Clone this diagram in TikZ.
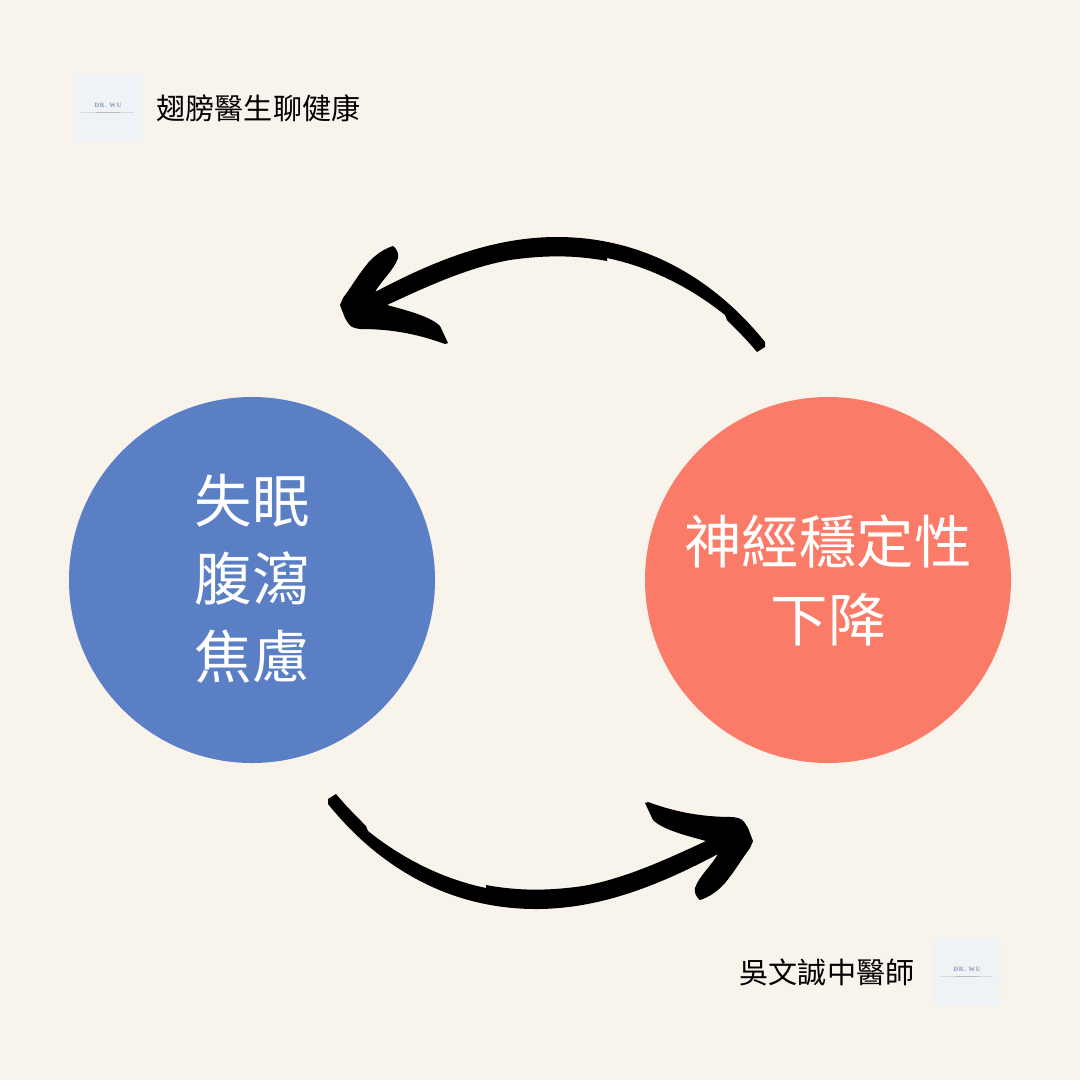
\documentclass[tikz,border=0pt]{standalone}
\usepackage{fontspec}
\newfontfamily\cjk{Noto Sans CJK TC}
\newfontfamily\logoserif[LetterSpace=12]{Liberation Serif}
\definecolor{bgc}{HTML}{F8F3EB}
\definecolor{bluec}{HTML}{5B7FC5}
\definecolor{redc}{HTML}{FA7C68}
\definecolor{logobg}{HTML}{EFF3F5}
\definecolor{logoink}{HTML}{8496B8}
\definecolor{logoline}{HTML}{D5DBE0}
\definecolor{logomid}{HTML}{B4BDC8}
\tikzset{
  bubble/.style={circle,minimum size=366pt,inner sep=0pt,draw=none},
  bigtext/.style={text=white,align=center,font=\cjk\fontsize{57.5}{78}\selectfont,inner sep=0pt},
  smalltext/.style={text=black,anchor=center,font=\cjk\fontsize{29.1}{34}\selectfont,inner sep=0pt},
  logobox/.style={fill=logobg,minimum size=68pt,inner sep=0pt,draw=none},
  logotext/.style={text=logoink,font=\logoserif\fontsize{6.5}{7}\selectfont\bfseries,inner sep=0pt},
  logorule/.style={logoline,line width=0.7pt},
  logoinkrule/.style={logomid,line width=0.9pt},
}
\newcommand{\brusharrow}{%
  \fill[black] (340,305)
    -- (343,298)
    .. controls (352,286) and (358,275) .. (368,263)
    .. controls (376,254) and (384,249) .. (393,246)
    .. controls (397,249) and (399,254) .. (398,258)
    .. controls (394,270) and (381,281) .. (375,292)
    .. controls (430,263) and (490,237) .. (557,237)
    .. controls (645,237) and (715,280) .. (765,342)
    -- (765,347) -- (757,352)
    .. controls (747,340) and (737,330) .. (727,320)
    -- (725,315)
    .. controls (690,287) and (650,267) .. (607,258)
    -- (607,261)
    .. controls (575,255) and (545,255) .. (510,260)
    .. controls (470,267) and (430,285) .. (387,305)
    .. controls (405,310) and (430,316) .. (440,326)
    -- (448,343) -- (445,344)
    .. controls (420,335) and (395,329) .. (360,329)
    -- (355,328)
    .. controls (350,327) and (348,323) .. (345,318)
    -- cycle;
}
\begin{document}
\begin{tikzpicture}[x=1pt,y=-1pt]
\useasboundingbox (0,0) rectangle (1080,1080);
\fill[bgc] (0,0) rectangle (1080,1080);
% logos
\node[logobox] (logoa) at (108,108) {};
\node[logotext] (logoatext) at (108,105) {DR. WU};
\draw[logorule] (81,112) -- (134,112);
\draw[logoinkrule] (96,112) -- (120,112);
\node[logobox] (logob) at (967,972) {};
\node[logotext] (logobtext) at (967,969) {DR. WU};
\draw[logorule] (940,976) -- (993,976);
\draw[logoinkrule] (955,976) -- (979,976);
% small labels
\node[smalltext] (top) at (258.5,108) {翅膀醫生聊健康};
\node[smalltext] (bottom) at (827,972) {吳文誠中醫師};
% circles
\node[bubble,fill=bluec] (left) at (252,580) {};
\node[bubble,fill=redc] (right) at (828,580) {};
\node[bigtext] (lefttext) at (252,579) {失眠\\腹瀉\\焦慮};
\node[bigtext] (righttext) at (828,580) {神經穩定性\\下降};
% brush arrows
\brusharrow
\begin{scope}[shift={(1093,1146)},xscale=-1,yscale=-1]
\brusharrow
\end{scope}
\end{tikzpicture}
\end{document}
